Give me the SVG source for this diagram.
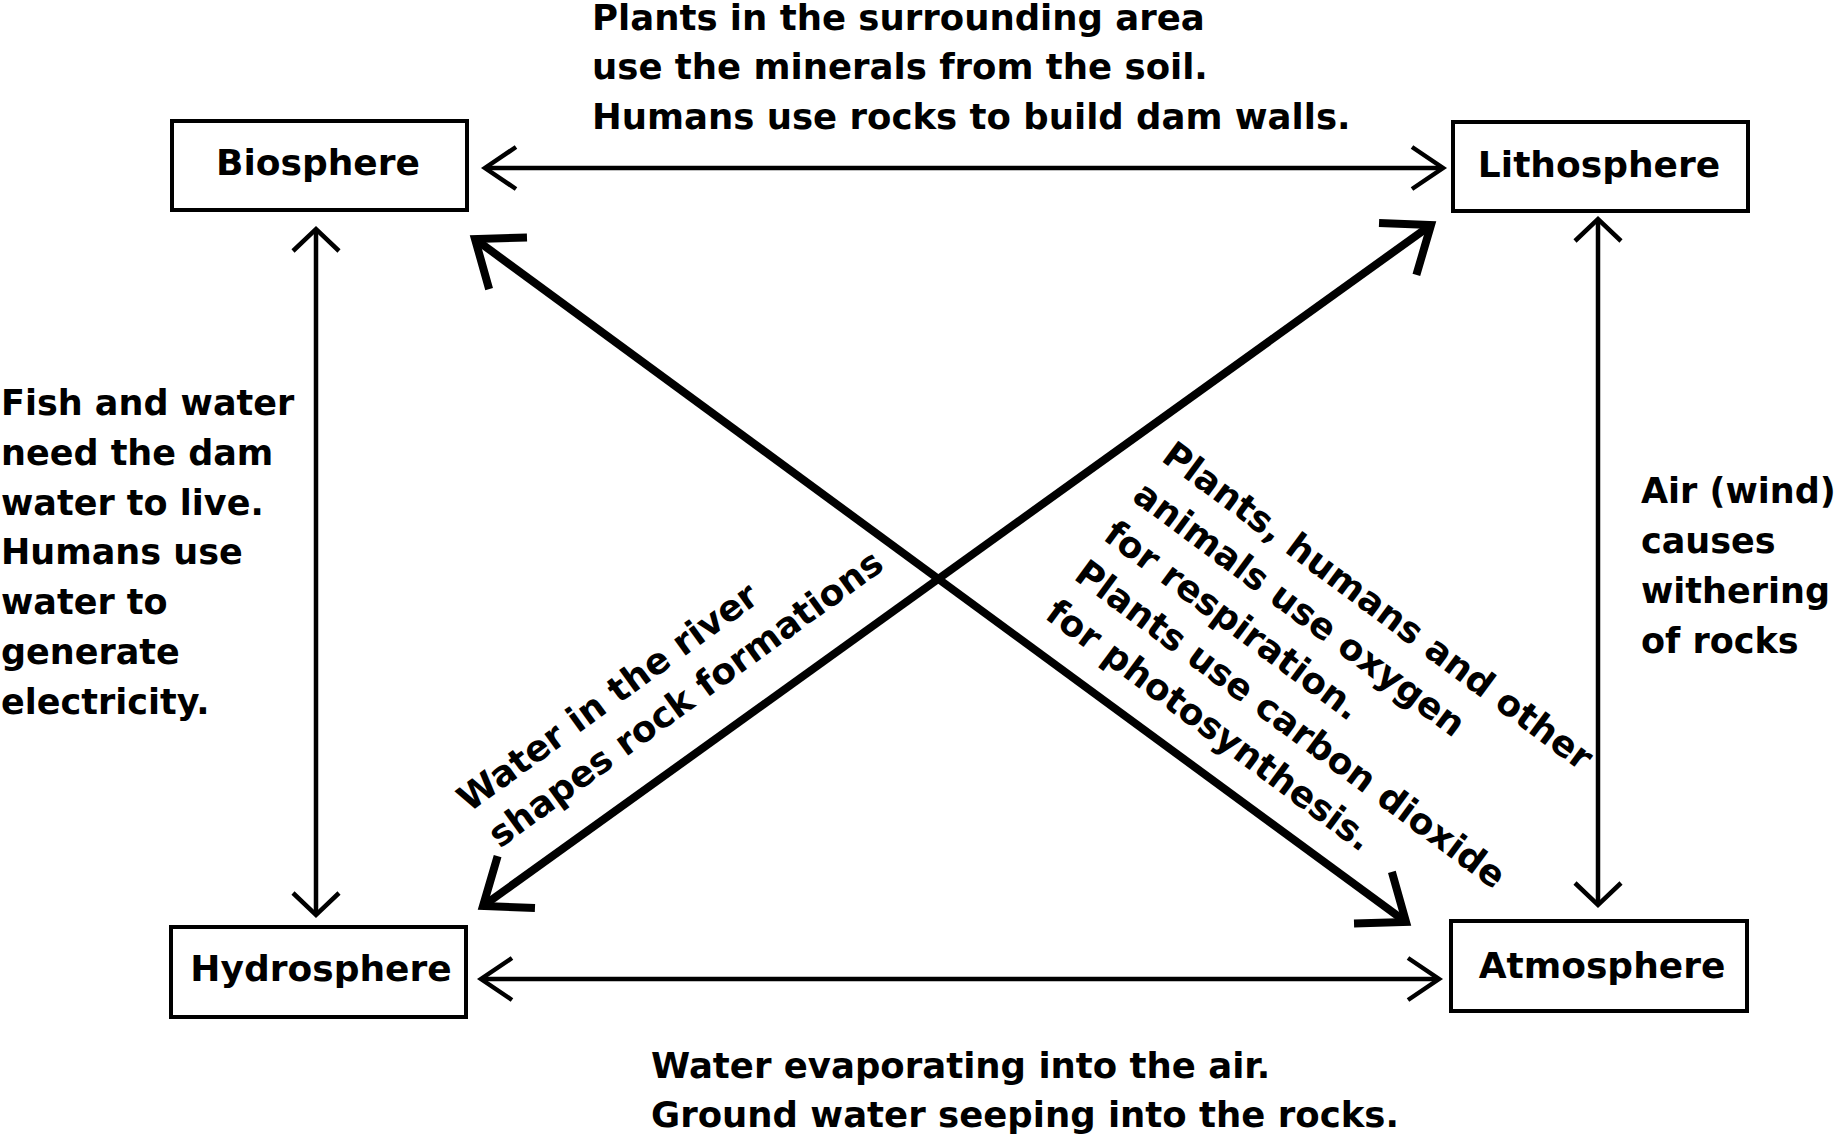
<svg xmlns="http://www.w3.org/2000/svg" width="1845" height="1135" viewBox="0 0 1845 1135">
<style>
.box{fill:#fff;stroke:#000;stroke-width:4}
.lbl{font-family:"DejaVu Sans",sans-serif;font-weight:bold;font-size:36px;text-anchor:middle;fill:#000}
.note{font-family:"DejaVu Sans",sans-serif;font-weight:bold;font-size:35px;fill:#000}
.diag{font-family:"DejaVu Sans",sans-serif;font-weight:bold;font-size:36px;fill:#000}
.note2{font-family:"DejaVu Sans",sans-serif;font-weight:bold;font-size:35.5px;fill:#000}
.thin{stroke:#000;stroke-width:4.5;fill:none}
.thick{stroke:#000;stroke-width:8;fill:none}
</style>
<defs>
<marker id="hd" markerUnits="userSpaceOnUse" orient="auto-start-reverse" refX="0" refY="0" markerWidth="10" markerHeight="10" overflow="visible">
<path d="M-31,-21 L0,0 L-31,21" fill="none" stroke="#000" stroke-width="4.5"/>
</marker>
<marker id="vd" markerUnits="userSpaceOnUse" orient="auto-start-reverse" refX="0" refY="0" markerWidth="10" markerHeight="10" overflow="visible">
<path d="M-22,-23 L0,0 L-22,23" fill="none" stroke="#000" stroke-width="4.5"/>
</marker>
<marker id="dd" markerUnits="userSpaceOnUse" orient="auto-start-reverse" refX="0" refY="0" markerWidth="10" markerHeight="10" overflow="visible">
<path d="M-41,-32 L0,0 L-41,32" fill="none" stroke="#000" stroke-width="8"/>
</marker>
</defs>
<rect width="1845" height="1135" fill="#fff"/>
<g id="connectors">
<line class="thin" x1="485" y1="168" x2="1443" y2="168" marker-start="url(#hd)" marker-end="url(#hd)"/>
<line class="thin" x1="481" y1="979" x2="1439" y2="979" marker-start="url(#hd)" marker-end="url(#hd)"/>
<line class="thin" x1="316" y1="229" x2="316" y2="915" marker-start="url(#vd)" marker-end="url(#vd)"/>
<line class="thin" x1="1598" y1="219" x2="1598" y2="905" marker-start="url(#vd)" marker-end="url(#vd)"/>
<line class="thick" x1="475" y1="239" x2="1406" y2="922" marker-start="url(#dd)" marker-end="url(#dd)"/>
<line class="thick" x1="483" y1="906" x2="1431" y2="225" marker-start="url(#dd)" marker-end="url(#dd)"/>
</g>
<g id="biosphere">
<rect class="box" x="172" y="121" width="295" height="89"/>
<text class="lbl" x="318" y="175">Biosphere</text>
</g>
<g id="lithosphere">
<rect class="box" x="1453" y="122" width="295" height="89"/>
<text class="lbl" x="1599" y="177">Lithosphere</text>
</g>
<g id="hydrosphere">
<rect class="box" x="171" y="927" width="295" height="90"/>
<text class="lbl" x="321" y="981">Hydrosphere</text>
</g>
<g id="atmosphere">
<rect class="box" x="1451" y="921" width="296" height="90"/>
<text class="lbl" x="1602" y="978">Atmosphere</text>
</g>
<g id="labels">
<text class="note2" x="592"><tspan x="592" y="29.5">Plants in the surrounding area</tspan><tspan x="592" y="79">use the minerals from the soil.</tspan><tspan x="592" y="128.5">Humans use rocks to build dam walls.</tspan></text>
<text class="note2" x="651"><tspan x="651" y="1078">Water evaporating into the air.</tspan><tspan x="651" y="1127">Ground water seeping into the rocks.</tspan></text>
<text class="note" x="1"><tspan x="1" y="415">Fish and water</tspan><tspan x="1" y="465">need the dam</tspan><tspan x="1" y="514.5">water to live.</tspan><tspan x="1" y="564">Humans use</tspan><tspan x="1" y="614">water to</tspan><tspan x="1" y="664">generate</tspan><tspan x="1" y="714">electricity.</tspan></text>
<text class="note" x="1641"><tspan x="1641" y="503">Air (wind)</tspan><tspan x="1641" y="553">causes</tspan><tspan x="1641" y="603">withering</tspan><tspan x="1641" y="653">of rocks</tspan></text>
<text class="diag" transform="translate(469,813) rotate(-36)"><tspan x="0" y="0">Water in the river</tspan><tspan x="4" y="47">shapes rock formations</tspan></text>
<text class="diag" transform="translate(1160,460) rotate(36.5)"><tspan x="0" y="0">Plants, humans and other</tspan><tspan x="0" y="49">animals use oxygen</tspan><tspan x="0" y="98">for respiration.</tspan><tspan x="0" y="147">Plants use carbon dioxide</tspan><tspan x="0" y="196">for photosynthesis.</tspan></text>
</g>
</svg>
